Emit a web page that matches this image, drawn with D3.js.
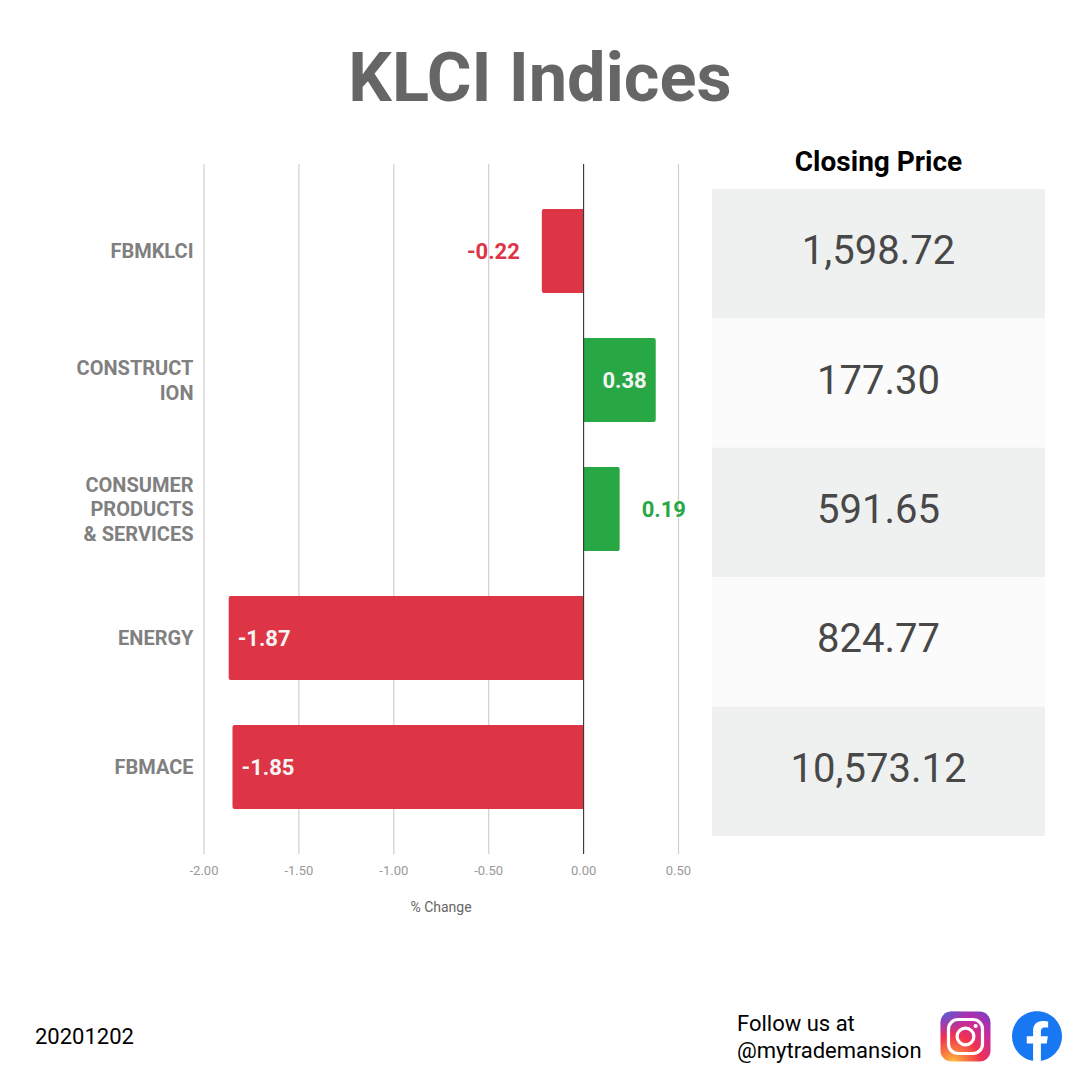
<!DOCTYPE html>
<html><head><meta charset="utf-8">
<script src="https://cdnjs.cloudflare.com/ajax/libs/d3/7.8.5/d3.min.js"></script>
<style>html,body{margin:0;padding:0;background:#fff}svg{display:block}text{font-family:Roboto,sans-serif}</style>
</head><body><div id="c"></div>
<script>
const categories=["FBMKLCI","CONSTRUCTION","CONSUMER PRODUCTS & SERVICES","ENERGY","FBMACE"];
const categoryLines=[["FBMKLCI"],["CONSTRUCT","ION"],["CONSUMER","PRODUCTS","& SERVICES"],["ENERGY"],["FBMACE"]];
const changes=[-0.22,0.38,0.19,-1.87,-1.85];
const closing=["1,598.72","177.30","591.65","824.77","10,573.12"];
const ticks=[-2,-1.5,-1,-0.5,0,0.5];
const insideLabel=[false,true,false,true,true];
const RED="#dd3546",GREEN="#28a745";
const fmt=v=>d3.format(".2f")(v).replace("\u2212","-");

const svg=d3.select("#c").append("svg").attr("width",1080).attr("height",1080);
svg.append("rect").attr("width",1080).attr("height",1080).attr("fill","#fff");
svg.append("text").attr("x",540).attr("y",101).attr("text-anchor","middle")
  .attr("font-size",68.5).attr("font-weight",700).attr("fill","#666666").text("KLCI Indices");

const x=d3.scaleLinear().domain([-2,0.5]).range([204,678.5]);
const y=d3.scaleBand().domain(categories).range([186.5,831.5]).paddingInner(0.349).paddingOuter(0.174);

const g=svg.append("g");
g.selectAll("line.grid").data(ticks.filter(t=>t!==0)).join("line").attr("class","grid")
  .attr("x1",d=>x(d)).attr("x2",d=>x(d)).attr("y1",164).attr("y2",854)
  .attr("stroke","#cfcfcf").attr("stroke-width",1.2);
g.selectAll("path.bar").data(categories).join("path").attr("class","bar")
  .attr("fill",(d,i)=>changes[i]<0?RED:GREEN)
  .attr("d",(d,i)=>{
    const v=changes[i],x0=x(0),x1=x(v),t=y(d),b=t+y.bandwidth(),r=2,s=v<0?1:-1;
    return `M${x0},${t}L${x1+s*r},${t}Q${x1},${t} ${x1},${t+r}L${x1},${b-r}Q${x1},${b} ${x1+s*r},${b}L${x0},${b}Z`;
  });
g.append("line").attr("x1",x(0)).attr("x2",x(0)).attr("y1",164).attr("y2",854).attr("stroke","#333").attr("stroke-width",1.1);

g.selectAll("text.tick").data(ticks).join("text").attr("class","tick")
  .attr("x",d=>x(d)).attr("y",875).attr("text-anchor","middle").attr("font-size",13).attr("fill","#9a9a9a")
  .text(fmt);
g.append("text").attr("x",441).attr("y",912).attr("text-anchor","middle").attr("font-size",14).attr("fill","#666").text("% Change");

categories.forEach((c,i)=>{
  const lines=categoryLines[i],cy=y(c)+y.bandwidth()/2,lh=24.5;
  lines.forEach((l,j)=>{
    g.append("text").attr("x",193.5).attr("y",cy+7.3+(j-(lines.length-1)/2)*lh).attr("text-anchor","end")
     .attr("font-size",20).attr("font-weight",700).attr("fill","#808080").text(l);
  });
  const v=changes[i];
  const lbl=fmt(v);
  let lx,anchor,fill;
  if(insideLabel[i]){
    fill="#f4f4f4";
    if(v<0){lx=x(v)+9;anchor="start";}else{lx=x(v)-9;anchor="end";}
  } else {
    fill=v<0?RED:GREEN;
    if(v<0){lx=x(v)-22;anchor="end";}else{lx=x(v)+22;anchor="start";}
  }
  g.append("text").attr("x",lx).attr("y",cy+7.8).attr("text-anchor",anchor).attr("font-size",22).attr("font-weight",700).attr("fill",fill).text(lbl);
});

// table
svg.append("text").attr("x",878.5).attr("y",170.5).attr("text-anchor","middle").attr("font-size",28).attr("font-weight",700).attr("fill","#000").text("Closing Price");
const rowH=d3.scaleBand().domain(d3.range(closing.length)).range([189,836]);
svg.selectAll("rect.row").data(closing).join("rect").attr("class","row")
  .attr("x",712).attr("width",333).attr("y",(d,i)=>rowH(i)).attr("height",rowH.bandwidth())
  .attr("fill",(d,i)=>i%2?"#fbfbfb":"#eff1f0");
svg.selectAll("text.val").data(closing).join("text").attr("class","val")
  .attr("x",878.5).attr("y",(d,i)=>rowH(i)+rowH.bandwidth()/2+10.5).attr("text-anchor","middle")
  .attr("font-size",40).attr("fill","#484848").text(d=>d);

// footer
svg.append("text").attr("x",35).attr("y",1044).attr("font-size",22).attr("fill","#000").text("20201202");
svg.append("text").attr("x",737).attr("y",1030.5).attr("font-size",22).attr("fill","#000").text("Follow us at");
svg.append("text").attr("x",737).attr("y",1058).attr("font-size",22).attr("fill","#000").text("@mytrademansion");

// icons
const defs=svg.append("defs");
const rg=defs.append("radialGradient").attr("id","ig1").attr("gradientUnits","userSpaceOnUse")
  .attr("cx",953).attr("cy",1064).attr("r",62);
[[0,"#fdd55f"],[0.12,"#fd9a3c"],[0.45,"#f0324e"],[0.75,"#c32aa3"],[1,"#7a3fc4"]].forEach(s=>rg.append("stop").attr("offset",s[0]).attr("stop-color",s[1]));
const rg2=defs.append("radialGradient").attr("id","ig2").attr("gradientUnits","userSpaceOnUse")
  .attr("cx",944).attr("cy",1010).attr("r",26);
[[0,"#4a68d8",0.9],[1,"#5b51d8",0]].forEach(s=>rg2.append("stop").attr("offset",s[0]).attr("stop-color",s[1]).attr("stop-opacity",s[2]));
const ig=svg.append("g");
ig.append("rect").attr("x",940.5).attr("y",1011.5).attr("width",50).attr("height",50).attr("rx",11).attr("fill","url(#ig1)");
ig.append("rect").attr("x",940.5).attr("y",1011.5).attr("width",50).attr("height",50).attr("rx",11).attr("fill","url(#ig2)");
ig.append("rect").attr("x",948.5).attr("y",1019.5).attr("width",34).attr("height",34).attr("rx",9.5).attr("fill","none").attr("stroke","#fff").attr("stroke-width",3.2);
ig.append("circle").attr("cx",965.5).attr("cy",1036.5).attr("r",8.4).attr("fill","none").attr("stroke","#fff").attr("stroke-width",3.2);
ig.append("circle").attr("cx",975.6).attr("cy",1026).attr("r",2.1).attr("fill","#fff");

const fb=svg.append("g").attr("transform","translate(1012,1011) scale(2.0833)");
fb.append("path").attr("fill","#1877f2").attr("d","M24 12.073c0-6.627-5.373-12-12-12s-12 5.373-12 12c0 5.99 4.388 10.954 10.125 11.854v-8.385H7.078v-3.47h3.047V9.43c0-3.007 1.792-4.669 4.533-4.669 1.312 0 2.686.235 2.686.235v2.953H15.83c-1.491 0-1.956.925-1.956 1.874v2.25h3.328l-.532 3.47h-2.796v8.385C19.612 23.027 24 18.062 24 12.073z");
</script></body></html>
